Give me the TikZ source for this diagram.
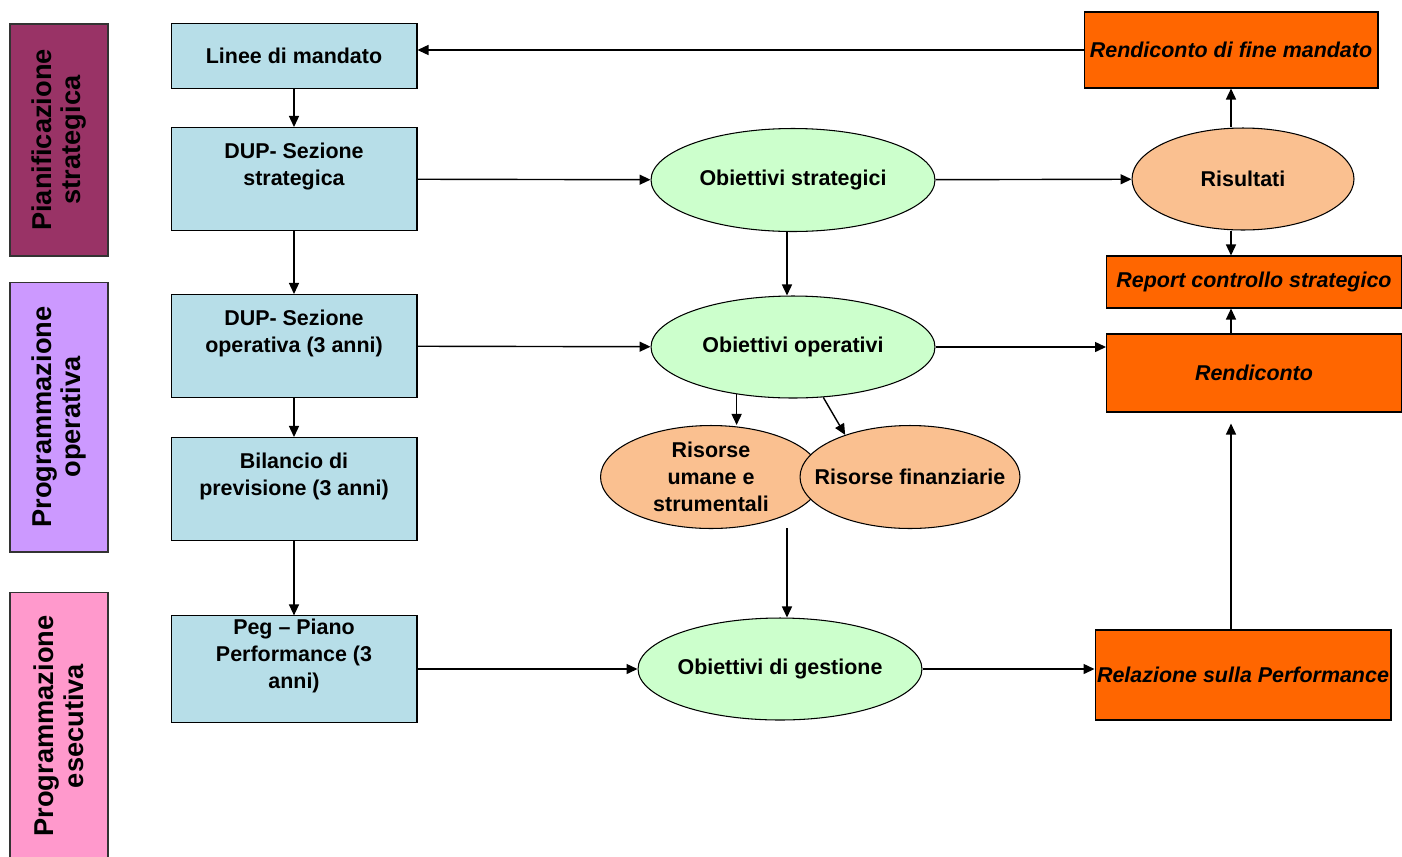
\documentclass[tikz,border=0pt]{standalone}
\usepackage{fontspec}
\setmainfont{Liberation Sans}
\usetikzlibrary{arrows.meta,shapes.geometric}

\definecolor{barmag}{HTML}{993366}
\definecolor{barlila}{HTML}{CC99FF}
\definecolor{barrosa}{HTML}{FF99CC}
\definecolor{boxblu}{HTML}{B7DEE8}
\definecolor{ellverde}{HTML}{CCFFCC}
\definecolor{ellpesca}{HTML}{FAC090}
\definecolor{boxarancio}{HTML}{FF6600}

% multi-line box text sits a little above the middle
\newcommand{\upt}[1]{\begin{tabular}{@{}c@{}}#1\\[0.5cm]\end{tabular}}

\begin{document}
\begin{tikzpicture}[x=0.02cm,y=-0.02cm,
  >={Triangle[length=2.2mm,width=2mm]},
  every node/.style={font=\fontsize{12.2}{15.4}\selectfont\bfseries,inner sep=0pt},
  fase/.style={draw=black!80,line width=0.6pt,rotate=90,align=center,
    minimum height=1.96cm,font=\fontsize{15.5}{17}\selectfont\bfseries},
  doc/.style={draw,line width=0.6pt,fill=boxblu,minimum width=4.92cm,
    minimum height=2.06cm,align=center},
  obj/.style={ellipse,draw,line width=0.6pt,fill=ellverde,minimum width=5.68cm,
    minimum height=2.04cm,align=center,inner sep=-0.8cm},
  ris/.style={ellipse,draw,line width=0.6pt,fill=ellpesca,minimum width=4.42cm,
    minimum height=2.06cm,align=center,inner sep=-0.8cm},
  ctrl/.style={draw,line width=0.6pt,fill=boxarancio,
    font=\fontsize{12.2}{15.4}\selectfont\bfseries\itshape},
  arr/.style={->,line width=0.8pt}]

  \useasboundingbox (0,0) rectangle (1402,856);

  % fasi
  \node[fase,fill=barmag,minimum width=4.64cm] (pia) at (59,140)
    {Pianificazione\\strategica};
  \node[fase,fill=barlila,minimum width=5.4cm] (pro) at (59,417)
    {Programmazione\\operativa};
  \node[fase,fill=barrosa,minimum width=5.36cm] (ese) at (59,726)
    {Programmazione\\esecutiva};

  % documenti
  \node[doc,minimum height=1.3cm] (lm) at (294,56) {Linee di mandato};
  \node[doc] (dss) at (294,179) {\upt{DUP- Sezione\\strategica}};
  \node[doc] (dso) at (294,346) {\upt{DUP- Sezione\\operativa (3 anni)}};
  \node[doc] (bil) at (294,489) {\upt{Bilancio di\\previsione (3 anni)}};
  \node[doc,minimum height=2.04cm] (peg) at (294,669)
    {\upt{Peg -- Piano\\Performance (3\\anni)}};

  % obiettivi
  \node[obj,minimum height=2.06cm] (os) at (793,180) {Obiettivi strategici};
  \node[obj] (oo) at (793,347) {Obiettivi operativi};
  \node[obj] (og) at (780,669) {Obiettivi di gestione};

  % risorse e risultati
  \node[ris,minimum width=4.44cm,minimum height=2.04cm] (ri) at (1243,179) {Risultati};
  \node[ris] (ru) at (711,477) {Risorse\\umane e\\strumentali};
  \node[ris,minimum width=4.4cm] (rf) at (910,477) {Risorse finanziarie};

  % controlli
  \node[ctrl,minimum width=5.88cm,minimum height=1.52cm] (rfm) at (1231,50)
    {Rendiconto di fine mandato};
  \node[ctrl,minimum width=5.9cm,minimum height=1.04cm] (rcs) at (1254,282)
    {Report controllo strategico};
  \node[ctrl,minimum width=5.9cm,minimum height=1.56cm] (rend) at (1254,373)
    {Rendiconto};
  \node[ctrl,minimum width=5.92cm,minimum height=1.8cm] (rel) at (1243,675)
    {Relazione sulla Performance};

  \coordinate (vx) at (1231,0);
  \coordinate (rb) at (787,528);

  % frecce
  \draw[arr] (lm) -- (dss);
  \draw[arr] (dss) -- (dso);
  \draw[arr] (dso) -- (bil);
  \draw[arr] (bil) -- (peg);
  \draw[arr] (rfm.west) -- (rfm.west -| lm.east);
  \draw[arr] (dss) -- (os);
  \draw[arr] (os) -- (ri);
  \draw[arr] (dso) -- (oo);
  \draw[arr] (oo.east) -- (oo.east -| rend.west);
  \draw[arr] (peg) -- (og);
  \draw[arr] (og.east) -- (og.east -| rel.west);
  \draw[arr] ([xshift=-0.12cm]os.south) -- ([xshift=-0.12cm]oo.north);
  \draw[arr] (oo.220) -- (oo.220 |- ru.north);
  \draw[arr] (oo.301) -- (rf.147);
  \draw[arr] (rb) -- (rb |- og.north);
  \draw[arr] (ri.north -| vx) -- (rfm.south -| vx);
  \draw[arr] (ri.south -| vx) -- (rcs.north -| vx);
  \draw[arr] (rend.north -| vx) -- (rcs.south -| vx);
  \draw[arr] (rel.north -| vx) -- ([yshift=-0.22cm]rend.south -| vx);
\end{tikzpicture}
\end{document}
